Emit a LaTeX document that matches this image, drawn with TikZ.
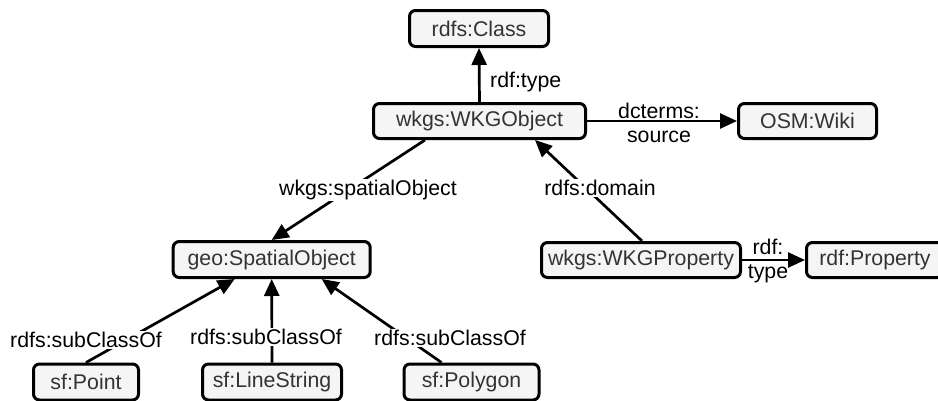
\documentclass[tikz,border=0pt]{standalone}
\usepackage{fontspec}
\setmainfont{Liberation Sans}
\usetikzlibrary{arrows.meta}
\definecolor{nodefill}{HTML}{F5F5F5}
\definecolor{nodetext}{HTML}{333333}
\begin{document}
\begin{tikzpicture}[x=1pt,y=-1pt,
  box/.style={draw=black, line width=3pt, rounded corners=6pt, fill=nodefill, text=nodetext,
    font=\fontsize{21.3}{24}\selectfont, minimum height=35pt, inner sep=0pt},
  rel/.style={line width=2.7pt, -{Triangle[length=17pt,width=15pt]}},
  lbl/.style={font=\fontsize{21.3}{24}\selectfont, text=black, inner sep=1.5pt, align=center},
  wlbl/.style={lbl, fill=white}]
\useasboundingbox (0,0) rectangle (938,400);
\clip (0,0) rectangle (938,400);

% nodes
\node[box, minimum width=139pt, minimum height=36pt] (cls) at (479,28.5) {rdfs:Class};
\node[box, minimum width=212pt] (wko) at (479.5,121) {wkgs:WKGObject};
\node[box, minimum width=138pt] (osm) at (807.5,121) {OSM:Wiki};
\node[box, minimum width=197pt, minimum height=36pt] (geo) at (271.7,259.5) {geo:SpatialObject};
\node[box, minimum width=199pt] (wkp) at (641,260) {wkgs:WKGProperty};
\node[box, minimum width=137pt] (rdp) at (875,260) {rdf:Property};
\node[box, minimum width=105pt, minimum height=36pt] (pt) at (86,382) {sf:Point};
\node[box, minimum width=139pt, minimum height=36pt] (ls) at (272,382) {sf:LineString};
\node[box, minimum width=135pt, minimum height=36pt] (pg) at (471.5,382) {sf:Polygon};

% connectors
\draw[rel] (wko.north) -- (cls.south);
\draw[rel] (wko.east) -- (osm.west);
\draw[rel] ([xshift=-54.5pt]wko.south) -- (geo.north);
\draw[rel] ([xshift=1pt]wkp.north) -- ([xshift=55.5pt]wko.south);
\draw[rel] (wkp.east) -- (rdp.west);
\draw[rel] (pt.north) -- ([xshift=-37pt]geo.south);
\draw[rel] (ls.north) -- (geo.south);
\draw[rel] ([xshift=-30pt]pg.north) -- ([xshift=50pt]geo.south);

% labels
\node[lbl, anchor=west, inner sep=0pt] (l1) at (490,82) {rdf:type};
\node[lbl] (l2) at (659,123) {dcterms:\\source};
\node[wlbl] (l3) at (368,190) {wkgs:spatialObject};
\node[wlbl] (l4) at (600,188) {rdfs:domain};
\node[lbl] (l5) at (768,261) {rdf:\\type};
\node[wlbl] (l6) at (86,340) {rdfs:subClassOf};
\node[wlbl] (l7) at (266,337) {rdfs:subClassOf};
\node[wlbl] (l8) at (450,338) {rdfs:subClassOf};
\end{tikzpicture}
\end{document}
